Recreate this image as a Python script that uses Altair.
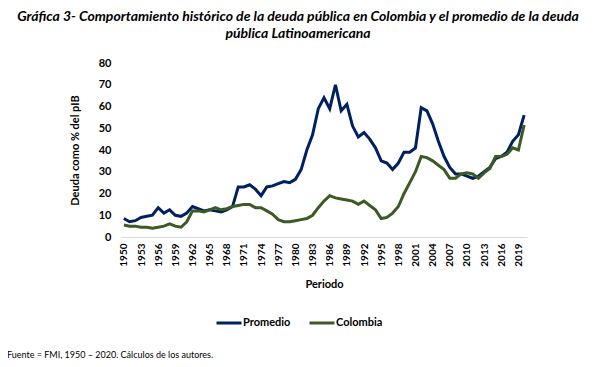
import altair as alt
import pandas as pd

years = list(range(1950, 2021))
promedio = [8.5, 7, 7.5, 9, 9.5, 10, 13.5, 11, 12.5, 10,
            9.5, 11, 14, 13, 12, 12.5, 12, 11.5, 12.5, 14,
            23, 23, 24, 22, 19, 23, 23.5, 24.5, 25.5, 25,
            26.5, 31, 40, 47, 59, 64, 59, 70, 58, 61,
            51, 46, 48, 45, 41, 35, 34, 31, 34, 39,
            39, 41, 59.5, 58, 52, 44, 37, 32, 29, 29,
            28, 27, 28, 30, 32, 36, 37, 39, 44, 47,
            56]
colombia = [5.5, 5, 5, 4.5, 4.5, 4, 4.5, 5, 6, 5,
            4.5, 7, 12, 12, 11.5, 12.5, 13.5, 12.5, 13, 14,
            14.5, 15, 15, 13.5, 13.5, 12, 10.5, 8, 7, 7,
            7.5, 8, 8.5, 10, 13.5, 16.5, 19, 18, 17.5, 17,
            16.5, 15, 16.5, 14.5, 12.5, 8.5, 9, 11, 14, 20,
            25, 30, 37, 36.5, 35, 33, 31, 27, 27, 29,
            29.5, 29, 27, 29.5, 31.5, 37, 37, 38, 41, 40,
            51.5]
series = ["Promedio", "Colombia"]
colors = ["#002060", "#3B5A24"]
title_lines = ["Gráfica 3- Comportamiento histórico de la deuda pública en Colombia y el promedio de la deuda",
               "pública Latinoamericana"]
footer = "Fuente = FMI, 1950 – 2020. Cálculos de los autores."
tick_years = list(range(1950, 2021, 3))

df = pd.DataFrame({
    "year": years * 2,
    "value": promedio + colombia,
    "serie": ["Promedio"] * len(years) + ["Colombia"] * len(years),
})

FONT = "Lato"

lines = alt.Chart(df).mark_line(strokeWidth=3, clip=False).encode(
    x=alt.X("year:Q", title="Periodo",
            scale=alt.Scale(domain=[1949.5, 2020.5], nice=False, zero=False),
            axis=alt.Axis(values=tick_years, format="d", labelAngle=270, ticks=False,
                          grid=False, domainColor="#D9D9D9", labelPadding=6,
                          labelFontSize=10, labelFontWeight="bold", labelColor="#000000",
                          titleFontSize=11, titleFontWeight="bold", titleColor="#000000",
                          titlePadding=12, labelFont=FONT, titleFont=FONT)),
    y=alt.Y("value:Q", title="Deuda como % del pIB",
            scale=alt.Scale(domain=[0, 80], nice=False),
            axis=alt.Axis(values=list(range(0, 81, 10)), grid=False, domain=False, ticks=False,
                          labelPadding=10, labelFontSize=11, labelFontWeight="bold",
                          labelColor="#000000", titleFontSize=11, titleFontWeight="bold",
                          titleColor="#000000", titlePadding=18, labelFont=FONT, titleFont=FONT)),
    color=alt.Color("serie:N", title=None,
                    scale=alt.Scale(domain=series, range=colors),
                    sort=series,
                    legend=alt.Legend(orient="none", legendX=94, legendY=246, direction="horizontal",
                                      symbolType="stroke", symbolStrokeWidth=3, symbolSize=625,
                                      labelFontSize=11, labelFontWeight="bold", labelColor="#000000",
                                      labelFont=FONT, columnPadding=12, labelOffset=0)),
)

foot = alt.Chart(pd.DataFrame({"t": [footer]})).mark_text(
    align="left", baseline="middle", fontSize=9, font=FONT, color="#000000"
).encode(text="t:N", x=alt.value(-114), y=alt.value(292))

chart = alt.layer(lines, foot).properties(
    width=406, height=174,
    padding={"left": 113, "top": 55, "right": 62, "bottom": 122},
    autosize=alt.AutoSizeParams(type="none"),
    title=alt.TitleParams(text=title_lines, fontSize=14, font=FONT, fontStyle="italic",
                          fontWeight="bold", color="#000000", anchor="middle", dx=-26,
                          offset=16, lineHeight=17),
).configure_view(stroke=None)

chart.save("out.html", embed_options={"renderer": "svg", "actions": False})
